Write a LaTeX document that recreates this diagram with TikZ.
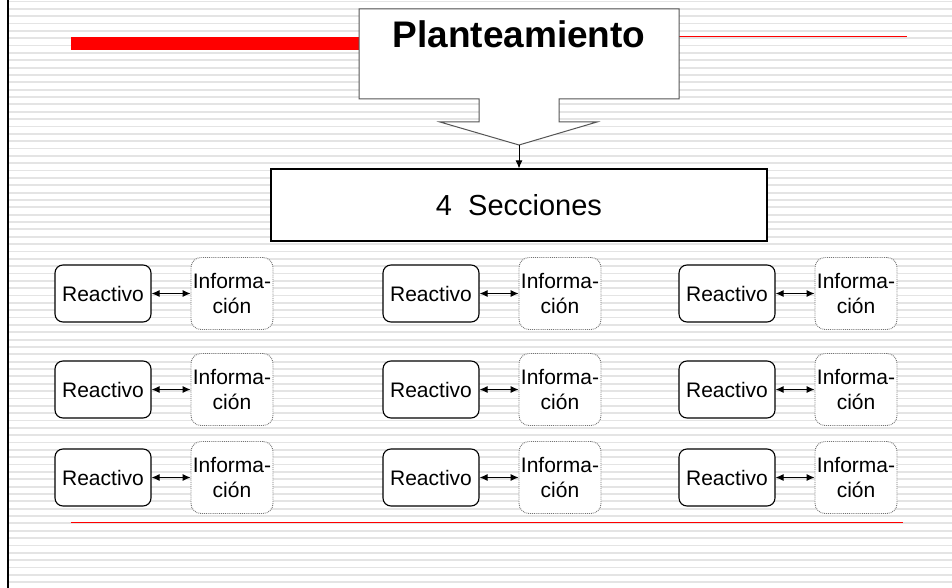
\documentclass[tikz,border=0pt]{standalone}
\usepackage{fontspec}
\setmainfont{Liberation Sans}
\usepackage{tikz}
\usetikzlibrary{positioning, arrows.meta}
\definecolor{stripegray}{HTML}{E4E4E4}
\definecolor{calloutgray}{HTML}{555555}
\tikzstyle{arrow} = [line width=0.9pt, -{Latex[length=8pt,width=7pt]}]
\tikzstyle{bothways} = [line width=1pt, {Latex[length=8pt,width=7pt]}-{Latex[length=8pt,width=7pt]}]
\tikzstyle{rblock} = [rectangle, draw, line width=1.1pt, fill=white, rounded corners=8pt,
minimum width=96pt, minimum height=57pt, inner sep=0pt, font=\fontsize{21}{25}\selectfont]
\tikzstyle{iblock} = [rectangle, draw=black!55, densely dotted, line width=0.9pt, fill=white, rounded corners=10pt,
minimum width=82pt, minimum height=72pt, inner sep=0pt, align=center, font=\fontsize{21}{25}\selectfont]
\tikzstyle{sblock} = [rectangle, draw, line width=1.2pt, fill=white,
minimum width=496pt, minimum height=72pt, font=\fontsize{29}{34}\selectfont]

\begin{document}
\begin{tikzpicture}[x=1pt, y=-1pt]
        \useasboundingbox (0,0) rectangle (952,588);
        % fondo rayado
        \fill[white] (0,0) rectangle (952,588);
        \foreach \k in {0,...,79}
            \draw[stripegray, line width=1.8pt] (9,1.5+7.35*\k) -- (952,1.5+7.35*\k);
        \draw[line width=2.2pt] (8,0) -- (8,588);
        % lineas rojas
        \fill[red] (71,37) rectangle (359,50);
        \draw[red, line width=1pt] (679,37) -- (907,37);
        \draw[red, line width=1pt] (71,522) -- (903,522);

        % llamada
        \draw[calloutgray, line width=1pt, fill=white] (359,9) -- (679,9) -- (679,99) -- (559,99) -- (559,122) -- (597,122)
            -- (519,145) -- (440,122) -- (479,122) -- (479,99) -- (359,99) -- cycle;
        \node (Plant) [anchor=base, font=\fontsize{37}{40}\selectfont\bfseries] at (519,48) {Planteamiento};
        \coordinate (Tip) at (519,145);
        \node (Secc) [sblock] at (519,205) {4\ \ Secciones};
        \draw [arrow] (Tip) -- (Secc);

        % reactivos
        \node (ReacA) [rblock] at (103,293.5) {Reactivo};
        \node (InfoA) [iblock, right=39pt of ReacA] {Informa-\\ción};
        \node (ReacB) [rblock] at (431,293.5) {Reactivo};
        \node (InfoB) [iblock, right=39pt of ReacB] {Informa-\\ción};
        \node (ReacC) [rblock] at (727,293.5) {Reactivo};
        \node (InfoC) [iblock, right=39pt of ReacC] {Informa-\\ción};
        \node (ReacD) [rblock] at (103,389.5) {Reactivo};
        \node (InfoD) [iblock, right=39pt of ReacD] {Informa-\\ción};
        \node (ReacE) [rblock] at (431,389.5) {Reactivo};
        \node (InfoE) [iblock, right=39pt of ReacE] {Informa-\\ción};
        \node (ReacF) [rblock] at (727,389.5) {Reactivo};
        \node (InfoF) [iblock, right=39pt of ReacF] {Informa-\\ción};
        \node (ReacG) [rblock] at (103,477.5) {Reactivo};
        \node (InfoG) [iblock, right=39pt of ReacG] {Informa-\\ción};
        \node (ReacH) [rblock] at (431,477.5) {Reactivo};
        \node (InfoH) [iblock, right=39pt of ReacH] {Informa-\\ción};
        \node (ReacI) [rblock] at (727,477.5) {Reactivo};
        \node (InfoI) [iblock, right=39pt of ReacI] {Informa-\\ción};

        \draw [bothways] (ReacA) -- (InfoA);
        \draw [bothways] (ReacB) -- (InfoB);
        \draw [bothways] (ReacC) -- (InfoC);
        \draw [bothways] (ReacD) -- (InfoD);
        \draw [bothways] (ReacE) -- (InfoE);
        \draw [bothways] (ReacF) -- (InfoF);
        \draw [bothways] (ReacG) -- (InfoG);
        \draw [bothways] (ReacH) -- (InfoH);
        \draw [bothways] (ReacI) -- (InfoI);
\end{tikzpicture}
\end{document}
